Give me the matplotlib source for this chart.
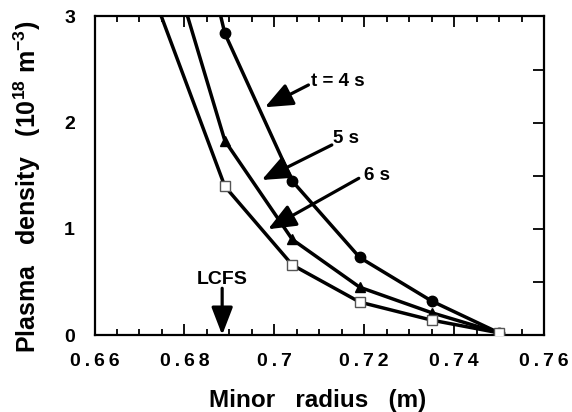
import matplotlib.pyplot as plt
from matplotlib.ticker import MultipleLocator

plt.rcParams['font.family'] = ['Liberation Sans', 'DejaVu Sans']
plt.rcParams['font.weight'] = 'bold'
plt.rcParams['mathtext.fontset'] = 'custom'
plt.rcParams['mathtext.rm'] = 'Liberation Sans:bold'
plt.rcParams['mathtext.bf'] = 'Liberation Sans:bold'

# minor radius (m) of the probe points, first one is off the top of the plot
radius = [0.674, 0.689, 0.704, 0.719, 0.735, 0.75]
dens_4s = [5.5, 2.84, 1.45, 0.73, 0.32, 0.02]
dens_5s = [3.95, 1.83, 0.90, 0.45, 0.21, 0.02]
dens_6s = [3.1, 1.40, 0.66, 0.31, 0.14, 0.02]

xtick_vals = [0.66, 0.68, 0.70, 0.72, 0.74, 0.76]
xtick_labels = ['0.66', '0.68', '0.7', '0.72', '0.74', '0.76']
ytick_vals = [0, 1, 2, 3]

fig = plt.figure(figsize=(5.72, 4.12), dpi=100)
ax = fig.add_axes([94.5 / 572, 1 - 335 / 412, (544 - 94.5) / 572, (335 - 16.5) / 412])

ax.plot(radius, dens_4s, color='black', lw=2.5, marker='o', ms=7.5,
        markevery=slice(1, None), zorder=3)
ax.plot(radius, dens_5s, color='black', lw=2.5, marker='^', ms=6.5,
        markevery=slice(1, None), zorder=3)
ax.plot(radius, dens_6s, color='black', lw=2.5, marker='s', ms=7.5,
        mfc='white', mec='#555555', mew=1, markevery=slice(1, None), zorder=4)

ax.set_xlim(0.66, 0.76)
ax.set_ylim(0, 3)

# labels + arrows
arrow = dict(arrowstyle='-|>,head_length=0.65,head_width=0.27', color='black',
             lw=2.3, mutation_scale=26, shrinkA=0, shrinkB=0)
ax.annotate('', xy=(0.6979, 2.145), xytext=(0.7076, 2.355), arrowprops=arrow)
ax.annotate('', xy=(0.6972, 1.46), xytext=(0.7128, 1.79), arrowprops=arrow)
ax.annotate('', xy=(0.6986, 0.996), xytext=(0.7188, 1.476), arrowprops=arrow)
lcfs_arrow = dict(arrow, arrowstyle='-|>,head_length=0.65,head_width=0.25')
ax.annotate('', xy=(0.6884, 0.0), xytext=(0.6884, 0.44), arrowprops=lcfs_arrow)

ax.text(0.7082, 2.39, 't = 4 s', fontsize=13.5, ha='left', va='center')
ax.text(0.7131, 1.855, '5 s', fontsize=13.5, ha='left', va='center')
ax.text(0.7200, 1.507, '6 s', fontsize=13.5, ha='left', va='center')
ax.text(0.6884, 0.527, 'LCFS', fontsize=14, ha='center', va='center')

# ticks (labels letter-spaced with thin spaces like the original)
ax.set_xticks(xtick_vals)
ax.set_xticklabels(['\u2009'.join(t) for t in xtick_labels])
ax.xaxis.set_minor_locator(MultipleLocator(0.005))
ax.set_yticks(ytick_vals)
ax.yaxis.set_minor_locator(MultipleLocator(0.5))
ax.tick_params(axis='x', which='both', direction='in', top=True, bottom=True,
               labelsize=14, pad=13, width=1.3)
ax.tick_params(axis='x', which='major', length=8)
ax.tick_params(axis='x', which='minor', length=4)
ax.tick_params(axis='y', which='both', direction='in', left=False, right=True,
               labelleft=True, length=8, width=1.3, labelsize=14, pad=14)
for s in ax.spines.values():
    s.set_linewidth(1.6)

fig.text(317.6 / 572, 1 - 401 / 412, 'Minor   radius   (m)', fontsize=17.5,
         ha='center', va='center')
fig.text(27.5 / 572, 1 - 187 / 412, 'Plasma   density   (10$^{18}$ m$^{-3}$)',
         fontsize=18, rotation=90, ha='center', va='center')

fig.savefig('out.png', dpi=100)
